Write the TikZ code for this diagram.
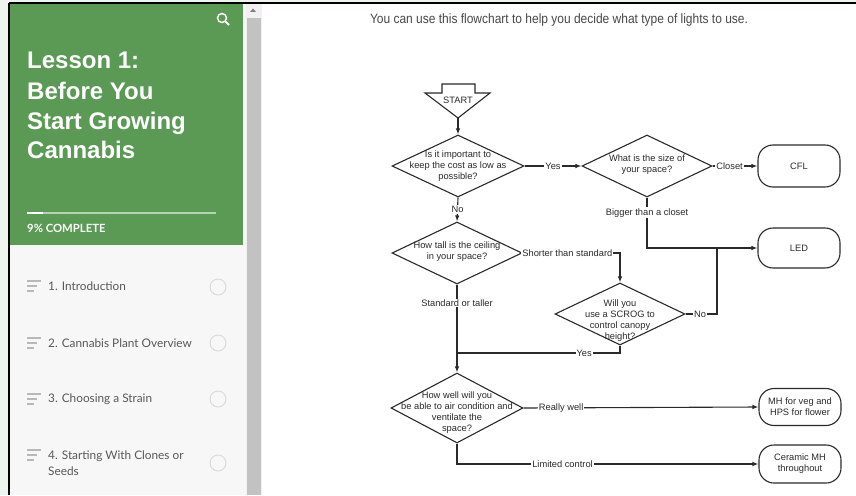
\documentclass[tikz,border=0pt]{standalone}
\usepackage{fontspec}
\setmainfont{Liberation Sans}
\newfontfamily\latofont{Lato}
\usetikzlibrary{shapes.geometric,arrows.meta}

\definecolor{sidegreen}{HTML}{5A9A55}
\definecolor{sidegrey}{HTML}{F7F7F7}
\definecolor{listgrey}{HTML}{585858}
\definecolor{ruleink}{HTML}{B8B8B8}
\definecolor{chartink}{HTML}{2A2A2A}
\definecolor{scrollgrey}{HTML}{C2C2C2}
\definecolor{scrolltrack}{HTML}{F1F1F1}
\definecolor{pagetint}{HTML}{EEF4EE}
\definecolor{introink}{HTML}{474747}

\newcommand{\chartfont}{\fontsize{9.3}{11}\selectfont}
\newcommand{\listfont}{\latofont\fontsize{11.8}{16}\selectfont}
\newcommand{\titlefont}{\fontsize{24}{30}\bfseries}

\begin{document}
\begin{tikzpicture}[x=1pt, y=-1pt,
    dia/.style={draw=chartink, line width=1.1pt, diamond, inner sep=0pt,
      minimum width=132pt, minimum height=62pt},
    lamp/.style={draw=chartink, line width=1.1pt, rounded corners=15pt,
      minimum width=82pt, minimum height=40pt, inner sep=0pt, align=center,
      font=\chartfont, text=chartink},
    txt/.style={align=center, font=\chartfont, text=chartink, inner sep=0pt},
    lbl/.style={fill=white, font=\chartfont, text=chartink, inner sep=1pt},
    flow/.style={draw=chartink, line width=1.1pt},
    item/.style={anchor=west, font=\listfont, text=listgrey, inner sep=0pt, align=left},
    >={Latex[length=6pt,width=4.5pt]}]

    \useasboundingbox (0,0) rectangle (856,495);

    % page and sidebar
    \fill[pagetint] (0,0) rectangle (856,495);
    \fill[white] (246,4) rectangle (856,495);
    \fill[sidegrey] (10,4) rectangle (246,495);
    \fill[sidegreen] (10,4) rectangle (243,245);
    \fill[scrolltrack] (246,4) rectangle (262,495);
    \fill[scrollgrey] (247,18) rectangle (261,495);
    \fill[gray] (250,12) -- (256,12) -- (253,8.5) -- cycle;
    \draw[black, line width=2pt] (9,3) -- (856,3);
    \draw[black, line width=2pt] (9,3) -- (9,495);

    % search icon
    \draw[white, line width=1.5pt] (222,18) circle (4.5);
    \draw[white, line width=1.8pt] (225.5,21.5) -- (229,25);

    \node[anchor=base west, text=white, font=\titlefont, inner sep=0pt] (title1) at (27,68) {Lesson 1:};
    \node[anchor=base west, text=white, font=\titlefont, inner sep=0pt] (title2) at (27,99) {Before You};
    \node[anchor=base west, text=white, font=\titlefont, inner sep=0pt] (title3) at (27,129) {Start Growing};
    \node[anchor=base west, text=white, font=\titlefont, inner sep=0pt] (title4) at (27,158) {Cannabis};

    \draw[white!55!sidegreen, line width=1.2pt] (27,213) -- (216,213);
    \draw[white, line width=2.5pt] (27,213) -- (43,213);
    \node[anchor=base west, text=white, font=\latofont\bfseries\fontsize{11.3}{13}\selectfont, inner sep=0pt] (progress) at (27,232) {9\% COMPLETE};

    % lessons
    \node[item] (lesson1) at (48,286) {1. Introduction};
    \node[item] (lesson2) at (48,343) {2. Cannabis Plant Overview};
    \node[item] (lesson3) at (48,399) {3. Choosing a Strain};
    \node[item] (lesson4) at (48,463) {4. Starting With Clones or\\Seeds};

    \draw[ruleink, line width=1.3pt] (27,281) -- (41,281) (27,286) -- (37,286) (27,291) -- (34,291);
    \draw[ruleink, line width=1.3pt] (27,338) -- (41,338) (27,343) -- (37,343) (27,348) -- (34,348);
    \draw[ruleink, line width=1.3pt] (27,394) -- (41,394) (27,399) -- (37,399) (27,404) -- (34,404);
    \draw[ruleink, line width=1.3pt] (27,450) -- (41,450) (27,455) -- (37,455) (27,460) -- (34,460);

    \draw[gray!30, line width=0.9pt] (218,287) circle (8);
    \draw[gray!30, line width=0.9pt] (218,343) circle (8);
    \draw[gray!30, line width=0.9pt] (218,399) circle (8);
    \draw[gray!30, line width=0.9pt] (218,463) circle (8);

    % heading
    \node[text=introink, inner sep=0pt] (intro) at (559,20)
      {\resizebox{378pt}{\height}{\fontsize{13.5}{16}\selectfont You can use this flowchart to help you decide what type of lights to use.}};

    % flowchart
    \coordinate (startTip) at (458,118);
    \draw[flow] (442,84) -- (475,84) -- (475,93) -- (490,93) -- (startTip)
      -- (425,93) -- (442,93) -- cycle;
    \node[txt] (start) at (458,100) {START};

    \node[dia] (q1) at (458,166) {};
    \node[dia, minimum width=130pt] (q2) at (647,166) {};
    \node[dia, minimum width=130pt] (q3) at (457,253) {};
    \node[dia, minimum width=130pt] (q4) at (620,314) {};
    \node[dia, minimum height=70pt] (q5) at (457,408) {};

    \node[txt] (q1t) at (458,166) {Is it important to\\keep the cost as low as\\possible?};
    \node[txt] (q2t) at (647,165) {What is the size of\\your space?};
    \node[txt] (q3t) at (457,252) {How tall is the ceiling\\in your space?};
    \node[txt] (q4t) at (620,321) {Will you\\use a SCROG to\\control canopy\\height?};
    \node[txt] (q5t) at (457,413) {How well will you\\be able to air condition and\\ventilate the\\space?};

    \node[lamp, minimum height=42pt] (cfl) at (799,166) {CFL};
    \node[lamp] (led) at (799,248) {LED};
    \node[lamp, minimum height=37pt] (mh) at (800,407) {MH for veg and\\HPS for flower};
    \node[lamp, minimum height=38pt] (cmh) at (800,464) {Ceramic MH\\throughout};

    \coordinate (ledJoin) at (717,248);
    \coordinate (mergeYes) at (457,353);

    \draw[flow, ->] (startTip) -- (q1.north);
    \draw[flow, ->] (q1.east) -- node[lbl] {Yes} (q2.west);
    \draw[flow, ->] (q1.south) -- node[lbl] {No} (q3.north);
    \draw[flow, ->] (q2.east) -- node[lbl, pos=0.38] {Closet} (cfl.west);
    \draw[flow, ->] (q2.south) |- node[lbl, pos=0.15] {Bigger than a closet} (led.west);
    \draw[flow, ->] (q3.east) -| node[lbl, pos=0.23] {Shorter than standard} (q4.north);
    \draw[flow] (q4.east) -| node[lbl, pos=0.23] {No} (ledJoin);
    \draw[flow] (q4.south) |- node[lbl, pos=0.61] {Yes} (mergeYes);
    \draw[flow, ->] (q3.south) -- node[lbl, pos=0.21] {Standard or taller} (q5.north);
    \draw[flow, ->] (q5.east) -- node[lbl, pos=0.16] {Really well} (mh.west);
    \draw[flow, ->] (q5.south) |- node[lbl, pos=0.675] {Limited control} (cmh.west);

\end{tikzpicture}
\end{document}
